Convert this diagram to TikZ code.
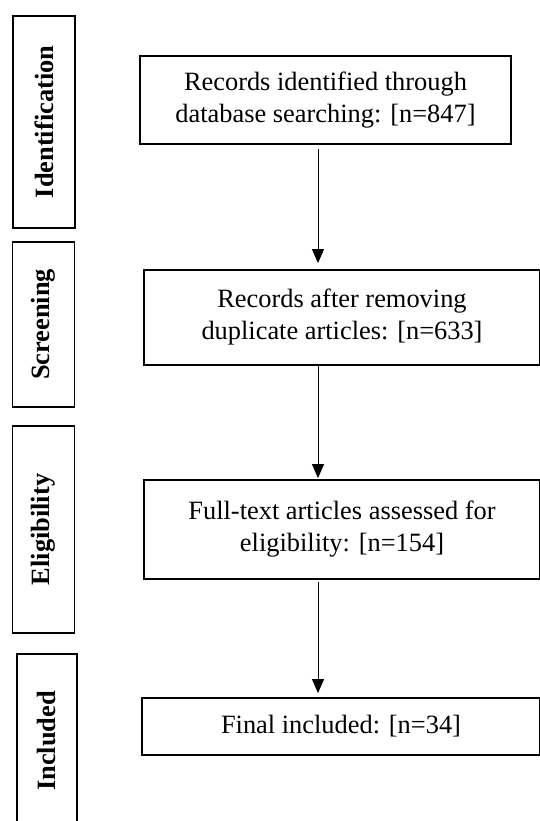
\documentclass[tikz,border=0pt]{standalone}
\usepackage{fontspec}
\setmainfont{Liberation Serif}
\usepackage{tikz}
\usetikzlibrary{arrows.meta, positioning}

\begin{document}
\begin{tikzpicture}[
  x=1pt, y=-1pt,
  stage/.style={
    rectangle, draw=black, line width=1.8pt,
    align=center, inner sep=0pt,
    font=\fontsize{26.4}{32}\selectfont
  },
  phase/.style={
    rectangle, draw=black, line width=1.8pt,
    rotate=90, inner sep=0pt,
    minimum height=62pt,
    font=\fontsize{26.4}{32}\selectfont\bfseries
  },
  arrow/.style={-{Triangle[length=14pt, width=12pt]}, line width=1pt, black}
]
\useasboundingbox (0,0) rectangle (539,821);

% phase labels
\node[phase, minimum width=212pt] (ident) at (44,122)   {Identification};
\node[phase, minimum width=165pt] (screen) at (43.5,324.5) {Screening};
\node[phase, minimum width=207pt] (elig) at (43.5,529.5) {Eligibility};
\node[phase, minimum width=174pt, minimum height=60pt] (incl) at (47,741) {Included};

% flow boxes
\node[stage, minimum width=371pt, minimum height=88pt] (found) at (325.5,100)
  {Records identified through\\database searching: [n=847]};
\node[stage, minimum width=396pt, minimum height=95pt] (dedup) at (342,317.5)
  {Records after removing\\duplicate articles: [n=633]};
\node[stage, minimum width=396pt, minimum height=99pt] (full) at (342,529.5)
  {Full-text articles assessed for\\eligibility: [n=154]};
\node[stage, minimum width=398pt, minimum height=57pt] (final) at (341,726.5)
  {Final included: [n=34]};

\coordinate (ax) at (318,0);

\draw[arrow, shorten <=4pt, shorten >=6pt] (found.south -| ax) -- (dedup.north -| ax);
\draw[arrow, shorten >=1pt] (dedup.south -| ax) -- (full.north -| ax);
\draw[arrow, shorten <=2pt, shorten >=4pt] (full.south -| ax) -- (final.north -| ax);

\end{tikzpicture}
\end{document}
